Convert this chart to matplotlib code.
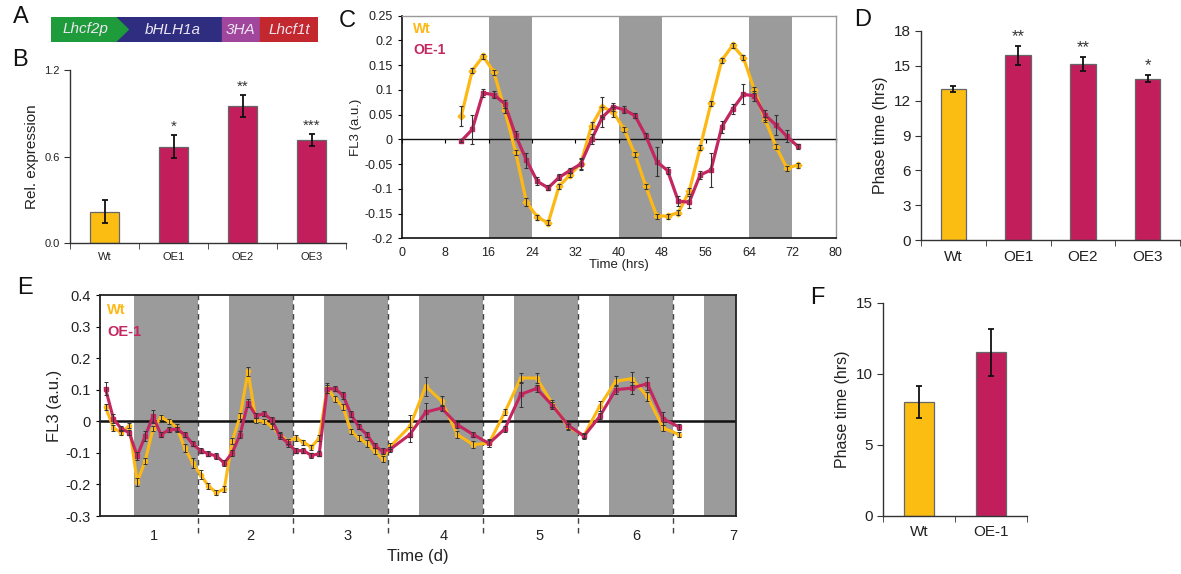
import numpy as np
import matplotlib
matplotlib.use("Agg")
import matplotlib.pyplot as plt
from matplotlib.patches import Rectangle, Polygon
from matplotlib.ticker import FuncFormatter

plt.rcParams['font.family'] = ['Liberation Sans', 'DejaVu Sans']
plt.rcParams['axes.unicode_minus'] = False

YEL = '#FBBD12'
MAG = '#C21E5C'
LINE_Y = '#FDB813'
LINE_M = '#C4265F'
SHADE = '#9B9B9B'
TXT = '#222222'

# --- A: construct
construct = ['Lhcf2p', 'bHLH1a', '3HA', 'Lhcf1t']

# --- B: relative expression
b_groups = ['Wt', 'OE1', 'OE2', 'OE3']
b_expr = [0.22, 0.67, 0.95, 0.715]
b_err = [0.08, 0.08, 0.075, 0.04]
b_sig = ['', '*', '**', '***']

# --- C: FL3 time course (hrs)
c_time = np.arange(11, 74, 2)
c_wt = [0.048, 0.139, 0.168, 0.136, 0.059, -0.026, -0.127, -0.157,
        -0.169, -0.095, -0.072, -0.049, 0.028, 0.066, 0.055, 0.02,
        -0.03, -0.095, -0.155, -0.155, -0.148, -0.105, -0.017, 0.073,
        0.16, 0.19, 0.165, 0.1, 0.04, -0.015, -0.058, -0.052]
c_wt_err = [0.02, 0.005, 0.005, 0.005, 0.005, 0.005, 0.008, 0.005,
            0.005, 0.005, 0.005, 0.01, 0.008, 0.02, 0.01, 0.005,
            0.005, 0.005, 0.005, 0.005, 0.005, 0.006, 0.005, 0.005,
            0.005, 0.005, 0.005, 0.006, 0.005, 0.005, 0.005, 0.005]
c_oe = [-0.003, 0.02, 0.094, 0.09, 0.072, 0.008, -0.042, -0.085,
        -0.098, -0.077, -0.063, -0.05, 0.0, 0.045, 0.066, 0.06,
        0.048, 0.007, -0.045, -0.063, -0.125, -0.127, -0.072, -0.062,
        0.025, 0.061, 0.091, 0.088, 0.049, 0.029, 0.006, -0.014]
c_oe_err = [0.003, 0.03, 0.008, 0.007, 0.008, 0.008, 0.015, 0.008,
            0.005, 0.006, 0.005, 0.012, 0.01, 0.02, 0.008, 0.007,
            0.005, 0.005, 0.03, 0.007, 0.01, 0.012, 0.008, 0.035,
            0.012, 0.01, 0.02, 0.01, 0.01, 0.02, 0.012, 0.005]
c_dark = [(16, 24), (40, 48), (64, 72)]

# --- D: phase time
d_groups = ['Wt', 'OE1', 'OE2', 'OE3']
d_phase = [13.0, 15.9, 15.15, 13.9]
d_err = [0.25, 0.85, 0.63, 0.33]
d_sig = ['', '**', '**', '*']

# --- E: FL3 long time course (hrs), 2 h then 4 h sampling
e_time = np.r_[np.arange(0.7, 73, 2), np.arange(77.6, 146, 4)]
e_wt = [0.045, -0.021, -0.036, -0.014, -0.193, -0.126, -0.023, 0.012, 0.0, -0.02,
        -0.084, -0.132, -0.169, -0.205, -0.226, -0.214, -0.063, 0.016, 0.158, 0.003,
        0.0, -0.016, -0.042, -0.063, -0.053, -0.066, -0.082, -0.053, 0.106, 0.071,
        0.046, -0.032, -0.053, -0.07, -0.095, -0.119, -0.079,
        -0.016, 0.111, 0.064, -0.042, -0.074, -0.069, 0.029, 0.137, 0.137, 0.056,
        -0.018, -0.045, 0.049, 0.127, 0.135, 0.079, -0.021, -0.042]
e_wt_err = [0.01, 0.01, 0.008, 0.008, 0.012, 0.01, 0.008, 0.008, 0.008, 0.01,
            0.012, 0.015, 0.015, 0.01, 0.008, 0.01, 0.01, 0.01, 0.015, 0.008,
            0.008, 0.008, 0.008, 0.008, 0.008, 0.008, 0.008, 0.01, 0.015, 0.01,
            0.01, 0.008, 0.008, 0.01, 0.01, 0.01, 0.01,
            0.035, 0.03, 0.015, 0.01, 0.012, 0.012, 0.01, 0.015, 0.015, 0.01,
            0.01, 0.008, 0.015, 0.015, 0.02, 0.015, 0.01, 0.008]
e_oe = [0.103, 0.008, -0.024, -0.036, -0.11, -0.047, 0.016, -0.042, -0.027, -0.025,
        -0.042, -0.071, -0.093, -0.103, -0.11, -0.132, -0.1, -0.042, 0.058, 0.018,
        0.024, 0.005, -0.047, -0.068, -0.093, -0.093, -0.108, -0.103, 0.103, 0.103,
        0.082, 0.022, -0.018, -0.042, -0.077, -0.095, -0.088,
        -0.042, 0.029, 0.042, -0.011, -0.042, -0.07, -0.024, 0.085, 0.104, 0.05,
        -0.013, -0.047, 0.016, 0.1, 0.105, 0.119, 0.008, -0.018]
e_oe_err = [0.02, 0.015, 0.008, 0.008, 0.012, 0.015, 0.02, 0.008, 0.008, 0.008,
            0.008, 0.008, 0.008, 0.008, 0.008, 0.01, 0.01, 0.01, 0.012, 0.008,
            0.008, 0.01, 0.01, 0.012, 0.008, 0.008, 0.008, 0.008, 0.012, 0.008,
            0.01, 0.01, 0.008, 0.008, 0.008, 0.01, 0.008,
            0.025, 0.03, 0.01, 0.01, 0.008, 0.01, 0.01, 0.04, 0.01, 0.01,
            0.01, 0.008, 0.01, 0.015, 0.02, 0.02, 0.02, 0.01]
e_dark = [(8, 24), (32, 48), (56, 72), (80, 96), (104, 120), (128, 144), (152, 160)]
e_days = ['1', '2', '3', '4', '5', '6', '7']

# --- F: phase time
f_groups = ['Wt', 'OE-1']
f_phase = [8.0, 11.5]
f_err = [1.1, 1.68]

W, H = 1181, 574
fig = plt.figure(figsize=(W / 100, H / 100), dpi=100)


def box(l, t, r, b):
    return [l / W, 1 - b / H, (r - l) / W, (b - t) / H]


def fmt_g(v, pos):
    return '%g' % (round(v, 3) + 0.0)


def bar_panel(ax, labels, vals, errs, sig, ylim, yticks, ylabel, fs, lfs, width, star_fs):
    x = np.arange(len(labels))
    colors = [YEL] + [MAG] * (len(labels) - 1)
    ax.bar(x, vals, width, color=colors, edgecolor='#666666', linewidth=0.9,
           yerr=errs, error_kw=dict(ecolor='#111111', elinewidth=1.3, capsize=2, capthick=1.3))
    ax.set_xlim(-0.5, len(labels) - 0.5)
    ax.set_ylim(*ylim)
    for s in ['top', 'right']:
        ax.spines[s].set_visible(False)
    for s in ['left', 'bottom']:
        ax.spines[s].set_color('#333333')
        ax.spines[s].set_linewidth(1.0)
    ax.set_xticks(x)
    ax.set_xticklabels(labels, fontsize=fs, color=TXT)
    ax.set_xticks(np.arange(len(labels) + 1) - 0.5, minor=True)
    ax.tick_params(axis='x', which='major', length=0, pad=7)
    ax.tick_params(axis='x', which='minor', length=4, direction='out', color='#333333')
    ax.set_yticks(yticks)
    ax.tick_params(axis='y', length=4, labelsize=fs, labelcolor=TXT, color='#333333')
    ax.set_ylabel(ylabel, fontsize=lfs, color=TXT)
    for xi, v, e, s in zip(x, vals, errs, sig):
        if s:
            ax.annotate(s, (xi, v + e), xytext=(0, 1), textcoords='offset points',
                        ha='center', va='bottom', fontsize=star_fs, color='#333333')


# ---------- A
ax_a = fig.add_axes(box(51, 16.7, 318.3, 42.3))
ax_a.set_xlim(51, 318.3)
ax_a.set_ylim(0, 1)
ax_a.axis('off')
ax_a.add_patch(Rectangle((115, 0), 106.7, 1, color='#2E2D80'))
ax_a.add_patch(Polygon([(51, 0), (115, 0), (128.3, 0.5), (115, 1), (51, 1)], color='#1E9B3B'))
ax_a.add_patch(Rectangle((221.7, 0), 38.3, 1, color='#A0479D'))
ax_a.add_patch(Rectangle((260, 0), 58.3, 1, color='#C4282F'))
for cx, lab in zip([85, 173, 240.7, 289], construct):
    ax_a.text(cx, 0.5, lab, ha='center', va='center', fontsize=11, style='italic', color='#EDE6F2')

# ---------- B
ax_b = fig.add_axes(box(70, 70, 346, 243.3))
bar_panel(ax_b, b_groups, b_expr, b_err, b_sig, (0, 1.2), [0, 0.6, 1.2],
          'Rel. expression', 8, 11, 0.41, 11)
ax_b.yaxis.set_major_formatter(FuncFormatter(lambda v, p: '%.1f' % v))
ax_b.tick_params(axis='x', which='major', pad=6)

# ---------- C
ax_c = fig.add_axes(box(401.7, 15.7, 835.7, 238.3))
for a, b in c_dark:
    ax_c.axvspan(a, b, color=SHADE, lw=0, zorder=0)
ax_c.plot(c_time, c_wt, color=LINE_Y, lw=2.3, marker='D', ms=3.5, zorder=3)
ax_c.plot(c_time, c_oe, color=LINE_M, lw=2.3, marker='s', ms=3.5, zorder=3)
ax_c.errorbar(c_time, c_wt, yerr=c_wt_err, fmt='none', ecolor='#333333', elinewidth=0.8,
              capsize=1.6, capthick=0.8, zorder=4)
ax_c.errorbar(c_time, c_oe, yerr=c_oe_err, fmt='none', ecolor='#333333', elinewidth=0.8,
              capsize=1.6, capthick=0.8, zorder=4)
ax_c.set_xlim(0, 80)
ax_c.set_ylim(-0.2, 0.25)
ax_c.set_xticks(np.arange(0, 81, 8))
ax_c.set_yticks(np.arange(-0.2, 0.26, 0.05))
ax_c.yaxis.set_major_formatter(FuncFormatter(fmt_g))
ax_c.tick_params(axis='x', length=0, labelsize=9, labelcolor=TXT, pad=6)
ax_c.tick_params(axis='y', length=3, labelsize=9, labelcolor=TXT)
for s in ['left', 'bottom']:
    ax_c.spines[s].set_color('#111111')
    ax_c.spines[s].set_linewidth(1.2)
for s in ['top', 'right']:
    ax_c.spines[s].set_color('#999999')
    ax_c.spines[s].set_linewidth(1.0)
sec = ax_c.secondary_xaxis(0.2 / 0.45)
sec.set_xticks(np.arange(0, 81, 8))
sec.tick_params(direction='out', length=3, labelbottom=False, labeltop=False, width=0.8)
for s in sec.spines.values():
    s.set_linewidth(1.0)
    s.set_color('#111111')
ax_c.set_xlabel('Time (hrs)', fontsize=9.5, color=TXT, labelpad=0)
ax_c.set_ylabel('FL3 (a.u.)', fontsize=9.5, color=TXT, labelpad=2)
ax_c.text(0.026, 0.94, 'Wt', transform=ax_c.transAxes, color=LINE_Y, fontsize=10,
          fontweight='bold', va='center')
ax_c.text(0.026, 0.846, 'OE-1', transform=ax_c.transAxes, color=LINE_M, fontsize=10,
          fontweight='bold', va='center')

# ---------- D
ax_d = fig.add_axes(box(921, 31, 1180, 240))
bar_panel(ax_d, d_groups, d_phase, d_err, d_sig, (0, 18), np.arange(0, 19, 3),
          'Phase time (hrs)', 11, 11.5, 0.39, 12)
ax_d.yaxis.set_major_formatter(FuncFormatter(lambda v, p: '%d' % v))

# ---------- E
ax_e = fig.add_axes(box(100, 295, 736, 516))
for a, b in e_dark:
    ax_e.axvspan(a, b, color=SHADE, lw=0, zorder=0)
ax_e.axhline(0, color='#111111', lw=1.8, zorder=2)
ax_e.plot(e_time, e_wt, color=LINE_Y, lw=2.2, marker='o', ms=3, zorder=3)
ax_e.plot(e_time, e_oe, color=LINE_M, lw=2.2, marker='s', ms=3, zorder=3)
ax_e.errorbar(e_time, e_wt, yerr=e_wt_err, fmt='none', ecolor='#333333', elinewidth=0.7,
              capsize=1.3, capthick=0.7, zorder=4)
ax_e.errorbar(e_time, e_oe, yerr=e_oe_err, fmt='none', ecolor='#333333', elinewidth=0.7,
              capsize=1.3, capthick=0.7, zorder=4)
ax_e.set_xlim(-0.7, 160)
ax_e.set_ylim(-0.3, 0.4)
for d in range(24, 160, 24):
    ax_e.axvline(d, ymin=-0.075, ymax=1, color='#444444', lw=1.0, ls=(0, (4, 3)),
                 clip_on=False, zorder=1)
ax_e.set_xticks(np.linspace(13, 159.2, len(e_days)))
ax_e.set_xticklabels(e_days)
ax_e.tick_params(axis='x', length=0, labelsize=10.5, labelcolor=TXT, pad=9)
ax_e.set_yticks(np.arange(-0.3, 0.41, 0.1))
ax_e.yaxis.set_major_formatter(FuncFormatter(fmt_g))
ax_e.tick_params(axis='y', length=3, labelsize=10.5, labelcolor=TXT)
for s in ax_e.spines.values():
    s.set_color('#222222')
    s.set_linewidth(1.3)
ax_e.set_xlabel('Time (d)', fontsize=12, color=TXT, labelpad=5)
ax_e.set_ylabel('FL3 (a.u.)', fontsize=12, color=TXT, labelpad=3)
ax_e.text(0.011, 0.932, 'Wt', transform=ax_e.transAxes, color=LINE_Y, fontsize=10.5,
          fontweight='bold', va='center')
ax_e.text(0.011, 0.834, 'OE-1', transform=ax_e.transAxes, color=LINE_M, fontsize=10.5,
          fontweight='bold', va='center')

# ---------- F
ax_f = fig.add_axes(box(883.3, 302.7, 1026.7, 515.7))
bar_panel(ax_f, f_groups, f_phase, f_err, ['', ''], (0, 15), [0, 5, 10, 15],
          'Phase time (hrs)', 11, 11.5, 0.41, 11)
ax_f.yaxis.set_major_formatter(FuncFormatter(lambda v, p: '%d' % v))

# panel letters
for lab, x, y in [('A', 21, 17), ('B', 20, 60), ('C', 347, 21), ('D', 863, 20),
                  ('E', 25, 288), ('F', 817, 298)]:
    fig.text(x / W, 1 - y / H, lab, fontsize=17, ha='center', va='center', color='#111111')

fig.savefig('out.png', dpi=100)
